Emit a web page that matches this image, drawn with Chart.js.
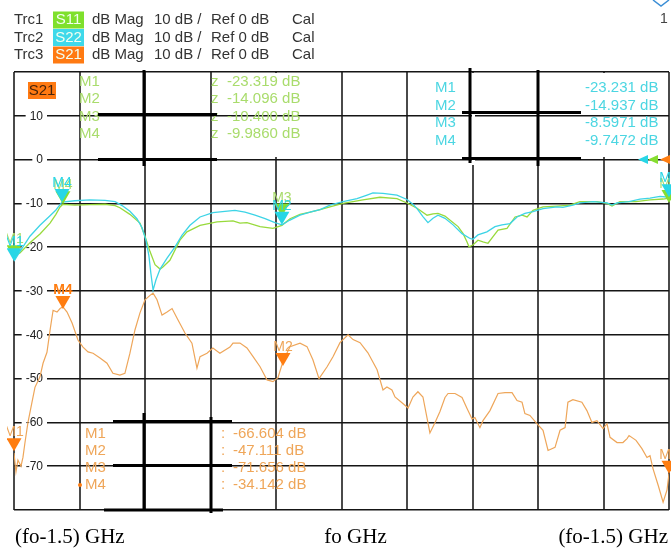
<!DOCTYPE html>
<html><head><meta charset="utf-8">
<script src="https://cdn.jsdelivr.net/npm/chart.js@4.4.0/dist/chart.umd.min.js"></script>
<style>html,body{margin:0;padding:0;background:#fff;overflow:hidden}#wrap{position:absolute;left:0;top:0;width:671px;height:551px}</style>
</head><body><div id="wrap"><canvas id="c" width="671" height="551"></canvas></div>
<script>
// ---- axes ----
const xTicks = [-1.5,-1.2,-0.9,-0.6,-0.3,0,0.3,0.6,0.9,1.2,1.5];   // GHz offset from fo
const yTicks = [20,10,0,-10,-20,-30,-40,-50,-60,-70,-80];          // dB
const yTickLabels = ['','10','0','-10','-20','-30','-40','-50','-60','-70',''];
const xLabels = ['(fo-1.5) GHz','fo GHz','(fo-1.5) GHz'];
const xLabelAt = [-1.5, 0, 1.5];

// ---- header ----
const traceNames = ['Trc1','Trc2','Trc3'];
const traceParams = ['S11','S22','S21'];
const traceFormat = ['dB Mag','dB Mag','dB Mag'];
const traceScale = ['10 dB /','10 dB /','10 dB /'];
const traceRef = ['Ref 0 dB','Ref 0 dB','Ref 0 dB'];
const traceCal = ['Cal','Cal','Cal'];

// ---- S22 (Trc2) ----
const s22Freq = [-1.500,-1.473,-1.427,-1.381,-1.335,-1.308,-1.280,-1.221,-1.152,-1.083,
 -1.037,-1.005,-0.969,-0.937,-0.914,-0.895,-0.882,-0.873,-0.863,-0.850,
 -0.831,-0.799,-0.763,-0.731,-0.694,-0.648,-0.589,-0.534,-0.488,-0.442,
 -0.396,-0.350,-0.305,-0.273,-0.236,-0.190,-0.144,-0.098,-0.053,0.007,
 0.071,0.117,0.144,0.190,0.254,0.300,0.327,0.346,0.373,0.396,
 0.419,0.442,0.474,0.511,0.552,0.589,0.602,0.625,0.666,0.703,
 0.735,0.772,0.804,0.840,0.877,0.923,0.987,1.014,1.060,1.092,
 1.152,1.216,1.239,1.262,1.317,1.367,1.413,1.459,1.500];
const s22Mag = [-23.2,-21,-17.5,-15,-12.8,-11.5,-9.7,-9.4,-9.2,-9.3,
 -9.6,-10.5,-11.8,-13.5,-15.5,-18.5,-22,-26,-29.8,-27.5,
 -25,-22.5,-20,-17.3,-15,-13.1,-12.1,-11.8,-11.6,-12,
 -12.7,-13.5,-14.4,-14.9,-13.8,-12.7,-12,-11.4,-10.4,-9.6,
 -8.9,-8.1,-7.6,-7.7,-8.1,-9.1,-10.2,-11.2,-13,-14.4,
 -13.4,-12.7,-13.4,-14.9,-16.9,-18,-18.2,-17.2,-16.5,-15.3,
 -14.9,-14.6,-13.1,-12.3,-11.9,-11.2,-10.8,-10.9,-10.4,-9.9,
 -9.6,-9.9,-10.4,-9.9,-9.6,-9,-8.8,-8.4,-8.6];

// ---- S11 (Trc1) ----
const s11Freq = [-1.500,-1.473,-1.427,-1.381,-1.335,-1.308,-1.289,-1.276,-1.221,-1.152,
 -1.083,-1.037,-1.015,-0.969,-0.923,-0.900,-0.877,-0.854,-0.831,-0.818,
 -0.786,-0.740,-0.708,-0.648,-0.570,-0.497,-0.465,-0.433,-0.373,-0.314,
 -0.273,-0.236,-0.190,-0.144,-0.098,-0.053,0.007,0.098,0.176,0.254,
 0.300,0.346,0.392,0.419,0.442,0.474,0.506,0.534,0.557,0.575,
 0.584,0.602,0.625,0.648,0.671,0.694,0.717,0.758,0.795,0.827,
 0.850,0.877,0.923,0.987,1.046,1.092,1.170,1.216,1.239,1.275,
 1.349,1.413,1.473,1.500];
const s11Mag = [-22,-21.3,-19,-17,-14.5,-12.5,-10.8,-10.2,-10.4,-10.3,
 -10.2,-10.5,-11,-12.5,-14.5,-17.5,-21,-24,-25,-24.5,
 -23,-18.4,-16.5,-15,-14.2,-14,-14.5,-14.4,-15.3,-15.7,
 -15,-13.5,-12.5,-12,-11.4,-10.8,-10,-9.2,-8.6,-8.9,
 -9.9,-11.1,-12.7,-12.4,-12.3,-12.9,-14.2,-15.3,-16.9,-18.8,
 -19.9,-19.5,-18.4,-18.8,-19.1,-17.6,-16.1,-15.7,-13.1,-12.7,
 -13.1,-11.6,-10.8,-10.6,-10.4,-9.6,-9.6,-10,-10.6,-9.6,
 -9.6,-9.2,-9,-8.8];

// ---- S21 (Trc3) ----
const s21Freq = [-1.500,-1.491,-1.482,-1.468,-1.459,-1.450,-1.436,-1.418,-1.404,-1.381,
 -1.367,-1.349,-1.335,-1.321,-1.303,-1.289,-1.276,-1.257,-1.234,-1.207,
 -1.184,-1.161,-1.138,-1.106,-1.074,-1.047,-1.015,-0.992,-0.969,-0.946,
 -0.923,-0.900,-0.877,-0.863,-0.845,-0.822,-0.799,-0.776,-0.753,-0.717,
 -0.685,-0.662,-0.648,-0.616,-0.589,-0.557,-0.511,-0.497,-0.465,-0.433,
 -0.405,-0.373,-0.341,-0.314,-0.291,-0.268,-0.236,-0.190,-0.158,-0.131,
 -0.103,-0.066,-0.039,-0.007,0.030,0.053,0.085,0.121,0.163,0.190,
 0.208,0.231,0.245,0.277,0.305,0.327,0.350,0.373,0.405,0.428,
 0.451,0.474,0.488,0.520,0.552,0.575,0.598,0.611,0.634,0.648,
 0.680,0.717,0.749,0.781,0.804,0.827,0.840,0.863,0.895,0.923,
 0.946,0.978,1.001,1.024,1.037,1.060,1.101,1.124,1.147,1.170,
 1.198,1.216,1.230,1.262,1.289,1.308,1.317,1.349,1.376,1.399,
 1.413,1.427,1.450,1.473,1.491,1.500];
const s21Mag = [-67,-71.3,-68.6,-70,-68,-64.7,-60,-55.5,-52,-49.6,
 -46.5,-44,-39,-34.4,-34.8,-34,-33.6,-34.8,-37.3,-41.2,
 -42.8,-43.9,-44.2,-45.3,-46.5,-48.8,-49.2,-48.8,-44.2,-38.9,
 -35,-32,-31,-30.5,-32,-35.5,-34.8,-34,-36.2,-39.6,
 -41.9,-47.6,-45,-44.2,-43,-44.2,-42.8,-41.9,-41.9,-43,
 -45,-47.3,-50.3,-50.7,-49.8,-46.1,-42.7,-41.9,-42.7,-45.7,
 -50,-47.3,-45,-41.8,-40,-41.1,-41.8,-44.1,-48,-52.6,
 -51.9,-52.6,-54.2,-55.5,-56.7,-54.2,-53,-54.2,-62.4,-60.1,
 -57.5,-54.3,-53.4,-53.4,-54.3,-56.8,-59.2,-58.9,-61.2,-59.6,
 -57.3,-53.4,-53.2,-53.2,-55,-55.4,-58,-58.4,-60.3,-61.8,
 -66.4,-65.7,-61.8,-61.2,-55.4,-54.8,-55.4,-57.3,-60,-59.6,
 -61.4,-60.3,-63.4,-64.6,-64.6,-63.7,-63,-64.1,-66,-68,
 -67.6,-70.6,-74.3,-78.2,-75.4,-71.7];

// ---- markers ----
const markerNames = ['M1','M2','M3','M4'];
const s11MarkFreq = [-1.5, 1.5, -0.273, -1.276];
const s11MarkMag  = [-22.5, -9.9, -13, -10.2];
const s11Readout  = ['-23.319 dB','-14.096 dB','-10.400 dB','-9.9860 dB'];
const s22MarkFreq = [-1.5, -0.273, 1.5, -1.280];
const s22MarkMag  = [-23.2, -14.9, -8.6, -9.7];
const s22Readout  = ['-23.231 dB','-14.937 dB','-8.5971 dB','-9.7472 dB'];
const s21MarkFreq = [-1.5, -0.268, 1.5, -1.276];
const s21MarkMag  = [-66.6, -47.1, -71.7, -34.1];
const s21Readout  = ['-66.604 dB','-47.111 dB','-71.656 dB','-34.142 dB'];

const SANS = '"Liberation Sans", Arial, sans-serif';
const C = {
  cyanTrace:'#3dd4e6', greenTrace:'#98da3c', orangeTrace:'#eea65a',
  cyanMark:'#28d6e6', greenMark:'#86de30', orangeMark:'#ff7d10',
  cyanText:'#4cd6e2', greenText:'#a9dc6c', orangeText:'#efa659',
  s11Box:'#7fe02c', s22Box:'#3fd9ea', s21Box:'#ff7a12'
};

function drawMarkers(ctx, xs, ys, fr, mg, triColor, labColor, boldIdx) {
  markerNames.forEach((n,i)=>{
    const px = xs.getPixelForValue(fr[i]), py = ys.getPixelForValue(mg[i]);
    ctx.fillStyle = triColor;
    ctx.beginPath(); ctx.moveTo(px, py); ctx.lineTo(px-7.5, py-13); ctx.lineTo(px+7.5, py-13); ctx.closePath(); ctx.fill();
    ctx.fillStyle = (i===boldIdx) ? triColor : labColor;
    ctx.font = (i===boldIdx ? 'bold ' : '') + '14px ' + SANS;
    ctx.textAlign='center'; ctx.textBaseline='alphabetic';
    ctx.fillText(n, px, py-15);
  });
}

const deco = {
  id:'deco',
  beforeDatasetsDraw(chart){
    const {ctx, chartArea:a, scales:{x,y}} = chart;
    ctx.save();
    ctx.fillStyle='#fff';
    ctx.fillRect(226, a.top+1, 82, 84);
    ctx.fillRect(577, a.top+1, 88, 84);
    ctx.fillRect(472, a.top+1, 3, 92);
    const y10 = y.getPixelForValue(10);
    ctx.strokeStyle='#151515'; ctx.lineWidth=1.5;
    ctx.beginPath(); ctx.moveTo(226,y10); ctx.lineTo(308,y10); ctx.moveTo(577,y10); ctx.lineTo(665,y10); ctx.stroke();
    ctx.font='12px '+SANS; ctx.textAlign='right'; ctx.textBaseline='middle';
    yTicks.forEach((v,i)=>{
      const t=yTickLabels[i]; if(!t) return;
      const py=y.getPixelForValue(v), w=ctx.measureText(t).width, rx=a.left+29;
      ctx.fillStyle='#fff'; ctx.fillRect(rx-w-4, py-6, w+8, 12);
      ctx.fillStyle='#222'; ctx.fillText(t, rx, py+0.5);
    });
    ctx.restore();
  },
  afterDatasetsDraw(chart){
    const {ctx, chartArea:a, scales:{x,y}} = chart;
    ctx.save();
    // readouts
    ctx.font='15px '+SANS; ctx.textBaseline='middle'; ctx.textAlign='left';
    markerNames.forEach((n,i)=>{
      const gy=82+i*17.3;
      ctx.fillStyle=C.greenText; ctx.fillText(n,79,gy); ctx.fillText('z',211,gy); ctx.fillText(s11Readout[i],227,gy);
      const cy=87.5+i*17.9;
      ctx.fillStyle=C.cyanText; ctx.fillText(n,435,cy); ctx.fillText(s22Readout[i],585,cy);
      const oy=434+i*17;
      ctx.fillStyle=C.orangeText; ctx.fillText(n,85,oy); ctx.fillText(':',221,oy); ctx.fillText(s21Readout[i],233,oy);
    });
    ctx.fillStyle=C.orangeMark; ctx.beginPath(); ctx.arc(80,485,2,0,Math.PI*2); ctx.fill();
    // S21 active trace box
    ctx.fillStyle=C.s21Box; ctx.fillRect(28,82,28,17);
    ctx.fillStyle='#4a250a'; ctx.textAlign='center'; ctx.fillText('S21',42,91);
    // reference level arrows at 0 dB
    const y0=y.getPixelForValue(0);
    [[638,C.cyanMark],[648,C.greenMark],[660,C.orangeMark]].forEach(([tx,col])=>{
      ctx.fillStyle=col; ctx.beginPath(); ctx.moveTo(tx,y0); ctx.lineTo(tx+10,y0-4.5); ctx.lineTo(tx+10,y0+4.5); ctx.closePath(); ctx.fill();
    });
    // markers
    ctx.beginPath(); ctx.rect(7,60,664,491); ctx.clip();
    drawMarkers(ctx,x,y,s21MarkFreq,s21MarkMag,C.orangeMark,C.orangeText,3);
    drawMarkers(ctx,x,y,s11MarkFreq,s11MarkMag,C.greenMark,C.greenText,-1);
    drawMarkers(ctx,x,y,s22MarkFreq,s22MarkMag,C.cyanMark,C.cyanMark,-1);
    ctx.restore();
  },
  afterDraw(chart){
    const {ctx, scales:{x}} = chart;
    ctx.save();
    // thick overlay lines
    ctx.strokeStyle='#000'; ctx.lineWidth=3; ctx.lineCap='butt';
    const segs=[[98,114.5,217,114.5],[98,159.5,217,159.5],[144,70,144,166],
      [462,112.5,581,112.5],[462,158.5,581,158.5],[470,68,470,163],[538,70,538,166],
      [113,421.5,232,421.5],[113,465.5,232,465.5],[104,510,223,510],[144,413,144,510],[211,417,211,513]];
    ctx.beginPath(); segs.forEach(s=>{ctx.moveTo(s[0],s[1]);ctx.lineTo(s[2],s[3]);}); ctx.stroke();
    // header
    ctx.font='15px '+SANS; ctx.textBaseline='middle';
    const boxCol=[C.s11Box,C.s22Box,C.s21Box];
    traceNames.forEach((t,i)=>{
      const ry=20+i*17.5;
      ctx.textAlign='left'; ctx.fillStyle='#333';
      ctx.fillText(t,14,ry);
      ctx.fillText(traceFormat[i],92,ry);
      ctx.fillText(traceScale[i],154,ry);
      ctx.fillText(traceRef[i],211,ry);
      ctx.fillText(traceCal[i],292,ry);
      ctx.fillStyle=boxCol[i]; ctx.fillRect(53,ry-8.5,31,17);
      ctx.fillStyle='#f2fff0'; ctx.textAlign='center'; ctx.fillText(traceParams[i],68.5,ry);
    });
    // top right
    ctx.strokeStyle='#3c8fd6'; ctx.lineWidth=1.5;
    ctx.beginPath(); ctx.moveTo(653,0); ctx.lineTo(661,6); ctx.lineTo(669,0); ctx.stroke();
    ctx.fillStyle='#444'; ctx.font='14px '+SANS; ctx.textAlign='center'; ctx.fillText('1',664,19.5);
    // x labels
    ctx.font='21px "Liberation Serif", "Times New Roman", serif'; ctx.fillStyle='#000'; ctx.textBaseline='middle';
    xLabels.forEach((t,i)=>{
      const px=x.getPixelForValue(xLabelAt[i]);
      if(i===0){ctx.textAlign='left'; ctx.fillText(t,px+1,537);}
      else if(i===xLabels.length-1){ctx.textAlign='right'; ctx.fillText(t,px-1,537);}
      else {ctx.textAlign='center'; ctx.fillText(t,px+14,537);}
    });
    ctx.restore();
  }
};

const mk = (f,m)=>f.map((v,i)=>({x:v,y:m[i]}));
new Chart(document.getElementById('c'),{
  type:'scatter',
  data:{datasets:[
    {label:'S22',data:mk(s22Freq,s22Mag),showLine:true,borderColor:C.cyanTrace,borderWidth:1.3,pointRadius:0,tension:0},
    {label:'S11',data:mk(s11Freq,s11Mag),showLine:true,borderColor:C.greenTrace,borderWidth:1.3,pointRadius:0,tension:0},
    {label:'S21',data:mk(s21Freq,s21Mag),showLine:true,borderColor:C.orangeTrace,borderWidth:1.2,pointRadius:0,tension:0}
  ]},
  options:{
    responsive:false, animation:false, devicePixelRatio:1,
    layout:{padding:{left:14,right:2,top:72,bottom:41}},
    plugins:{legend:{display:false},tooltip:{enabled:false}},
    scales:{
      x:{type:'linear',min:-1.5,max:1.5,
         afterBuildTicks:ax=>{ax.ticks=xTicks.map(v=>({value:v}));},
         ticks:{display:false},grid:{color:'#4a4a4a',lineWidth:2,drawTicks:false},border:{display:false}},
      y:{type:'linear',min:-80,max:20,
         afterBuildTicks:ax=>{ax.ticks=yTicks.map(v=>({value:v}));},
         ticks:{display:false},grid:{color:'#151515',lineWidth:1.5,drawTicks:false},border:{display:false}}
    }
  },
  plugins:[deco]
});
</script></body></html>
